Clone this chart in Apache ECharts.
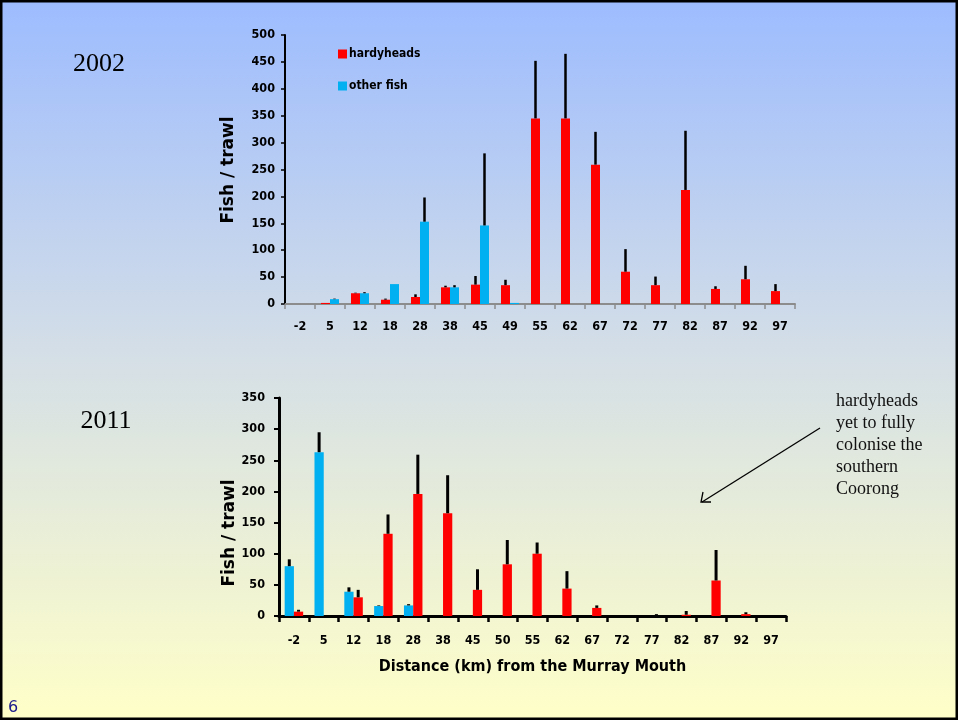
<!DOCTYPE html>
<html>
<head>
<meta charset="utf-8">
<script src="https://cdn.jsdelivr.net/npm/echarts@6/dist/echarts.min.js"></script>
<style>html,body{margin:0;padding:0;background:#fff}#c{width:958px;height:720px}</style>
</head>
<body>
<div id="c"></div>
<script>
// ---- data ----
const cats2002 = ['-2','5','12','18','28','38','45','49','55','62','67','72','77','82','87','92','97'];
const hardy2002    = [0, 2, 20, 8, 13, 31, 36, 35, 345, 345, 259, 60, 35, 212, 28, 46, 24];
const hardyErr2002 = [null, null, 21, 10, 18, 34, 52, 45, 452, 465, 320, 102, 51, 322, 33, 71, 37];
const other2002    = [0, 9, 20, 37, 153, 31, 146, 2, 0, 0, 0, 0, 0, 0, 0, 0, 0];
const otherErr2002 = [null, 10, 22, null, 198, 35, 280, null, null, null, null, null, null, null, null, null, null];

const cats2011 = ['-2','5','12','18','28','38','45','50','55','62','67','72','77','82','87','92','97'];
const other2011    = [80, 263, 39, 16, 17, 0, 0, 0, 0, 0, 0, 0, 0, 0, 0, 0, 0];
const otherErr2011 = [91, 295, 46, 17, 19, null, null, null, null, null, null, null, null, null, null, null, null];
const hardy2011    = [7, 0, 30, 132, 196, 165, 42, 83, 100, 44, 13, 0, 0, 2, 57, 3, 0];
const hardyErr2011 = [10, null, 42, 163, 259, 226, 75, 122, 118, 72, 17, null, 3, 8, 106, 6, null];

const yTicks2002 = {min: 0, max: 500, interval: 50};
const yTicks2011 = {min: 0, max: 350, interval: 50};

// ---- helpers ----
function errData(vals, errs) {
  const out = [];
  vals.forEach((v, i) => { if (errs[i] != null) out.push([i, v, errs[i]]); });
  return out;
}
function errRender(offset, lw) {
  return function (params, api) {
    const i = api.value(0);
    const p1 = api.coord([i, api.value(1)]);
    const p2 = api.coord([i, api.value(2)]);
    const bw = api.size([1, 0])[0];
    const x = p1[0] + offset * bw;
    return {type: 'line', shape: {x1: x, y1: p1[1], x2: x, y2: p2[1]},
            style: {stroke: '#000', lineWidth: lw}};
  };
}
const RED = '#FF0000', BLUE = '#00B0F0';
const F = 'DejaVu Sans, Verdana, sans-serif';
const FC = '"DejaVu Sans Condensed", "DejaVu Sans", sans-serif';

const chart = echarts.init(document.getElementById('c'), null, {renderer: 'canvas'});
const option = {
  animation: false,
  graphic: [
    {type: 'rect', z: -100, silent: true, shape: {x: 0, y: 0, width: 958, height: 720},
     style: {fill: new echarts.graphic.LinearGradient(0, 0, 0, 1, [
       {offset: 0, color: '#9DBCFF'}, {offset: 0.5, color: '#D5DFE6'}, {offset: 1, color: '#FFFFC8'}])}},
    {type: 'rect', z: 100, silent: true, shape: {x: 1, y: 1, width: 956, height: 718},
     style: {fill: 'none', stroke: '#000', lineWidth: 3}},
    {type: 'text', x: 99, y: 64, style: {text: '2002', font: '26px "Liberation Serif", "Times New Roman", serif', fill: '#000', textAlign: 'center', textVerticalAlign: 'middle'}},
    {type: 'text', x: 106, y: 421, style: {text: '2011', font: '26px "Liberation Serif", "Times New Roman", serif', fill: '#000', textAlign: 'center', textVerticalAlign: 'middle'}},
    {type: 'text', x: 836, y: 390, style: {text: 'hardyheads\nyet to fully\ncolonise the\nsouthern\nCoorong', font: '18px "Liberation Serif", "Times New Roman", serif', lineHeight: 22, fill: '#111', textAlign: 'left', textVerticalAlign: 'top'}},
    {type: 'line', shape: {x1: 820, y1: 428, x2: 702, y2: 502}, style: {stroke: '#000', lineWidth: 1.3}},
    {type: 'polyline', shape: {points: [[703, 492], [701, 502], [711, 502]]}, style: {stroke: '#000', lineWidth: 1.3, fill: 'none'}},
    {type: 'text', x: 8, y: 708, style: {text: '6', font: '16px "DejaVu Sans", sans-serif', fill: '#1a1a8c', textAlign: 'left', textVerticalAlign: 'middle'}},
    {type: 'text', x: 229, y: 170, rotation: Math.PI / 2, style: {text: 'Fish / trawl', font: 'bold 17px ' + F, fill: '#000', textAlign: 'center', textVerticalAlign: 'middle'}},
    {type: 'text', x: 230, y: 533, rotation: Math.PI / 2, style: {text: 'Fish / trawl', font: 'bold 17px ' + F, fill: '#000', textAlign: 'center', textVerticalAlign: 'middle'}}
  ],
  legend: {
    data: ['hardyheads', 'other fish'], orient: 'vertical', left: 333, top: 43,
    itemWidth: 9, itemHeight: 9, itemGap: 20, icon: 'rect',
    textStyle: {fontFamily: FC, fontWeight: 'bold', fontSize: 12, color: '#000', padding: [0, 0, 0, -3]}
  },
  grid: [
    {left: 285, right: 163, top: 35, bottom: 416},
    {left: 279, right: 172, top: 398, bottom: 104}
  ],
  xAxis: [
    {type: 'category', gridIndex: 0, data: cats2002,
     axisLine: {lineStyle: {color: '#8c8c8c', width: 2}},
     axisTick: {show: true, length: 5, lineStyle: {color: '#8c8c8c', width: 1.5}},
     axisLabel: {interval: 0, margin: 16, color: '#000', fontFamily: FC, fontWeight: 'bold', fontSize: 12.5}},
    {type: 'category', gridIndex: 1, data: cats2011,
     name: 'Distance (km) from the Murray Mouth', nameLocation: 'middle', nameGap: 43,
     nameTextStyle: {fontFamily: FC, fontWeight: 'bold', fontSize: 16, color: '#000'},
     axisLine: {lineStyle: {color: '#000', width: 3}},
     axisTick: {show: true, length: 6, lineStyle: {color: '#000', width: 2.5}},
     axisLabel: {interval: 0, margin: 18, color: '#000', fontFamily: FC, fontWeight: 'bold', fontSize: 12.5}}
  ],
  yAxis: [
    {type: 'value', gridIndex: 0, min: yTicks2002.min, max: yTicks2002.max, interval: yTicks2002.interval,
     splitLine: {show: false},
     axisLine: {show: true, lineStyle: {color: '#000', width: 2}},
     axisTick: {show: true, length: 4, lineStyle: {color: '#000', width: 1.5}},
     axisLabel: {margin: 10, color: '#000', fontFamily: FC, fontWeight: 'bold', fontSize: 12.5}},
    {type: 'value', gridIndex: 1, min: yTicks2011.min, max: yTicks2011.max, interval: yTicks2011.interval,
     splitLine: {show: false},
     axisLine: {show: true, lineStyle: {color: '#000', width: 3}},
     axisTick: {show: true, length: 5, lineStyle: {color: '#000', width: 2}},
     axisLabel: {margin: 14, color: '#000', fontFamily: FC, fontWeight: 'bold', fontSize: 12.5}}
  ],
  series: [
    {name: 'hardyheads', type: 'bar', xAxisIndex: 0, yAxisIndex: 0, data: hardy2002,
     barWidth: '30%', barGap: '0%', itemStyle: {color: RED}},
    {name: 'other fish', type: 'bar', xAxisIndex: 0, yAxisIndex: 0, data: other2002,
     barWidth: '30%', barGap: '0%', itemStyle: {color: BLUE}},
    {name: 'hardyErr2002', type: 'custom', xAxisIndex: 0, yAxisIndex: 0, data: errData(hardy2002, hardyErr2002),
     renderItem: errRender(-0.15, 2.5), encode: {x: 0, y: [1, 2]}, z: 5},
    {name: 'otherErr2002', type: 'custom', xAxisIndex: 0, yAxisIndex: 0, data: errData(other2002, otherErr2002),
     renderItem: errRender(0.15, 2.5), encode: {x: 0, y: [1, 2]}, z: 5},

    {name: 'other fish', type: 'bar', xAxisIndex: 1, yAxisIndex: 1, data: other2011,
     barWidth: '31%', barGap: '0%', itemStyle: {color: BLUE}},
    {name: 'hardyheads', type: 'bar', xAxisIndex: 1, yAxisIndex: 1, data: hardy2011,
     barWidth: '31%', barGap: '0%', itemStyle: {color: RED}},
    {name: 'otherErr2011', type: 'custom', xAxisIndex: 1, yAxisIndex: 1, data: errData(other2011, otherErr2011),
     renderItem: errRender(-0.155, 3), encode: {x: 0, y: [1, 2]}, z: 5},
    {name: 'hardyErr2011', type: 'custom', xAxisIndex: 1, yAxisIndex: 1, data: errData(hardy2011, hardyErr2011),
     renderItem: errRender(0.155, 3), encode: {x: 0, y: [1, 2]}, z: 5}
  ]
};
chart.setOption(option);
</script>
</body>
</html>
